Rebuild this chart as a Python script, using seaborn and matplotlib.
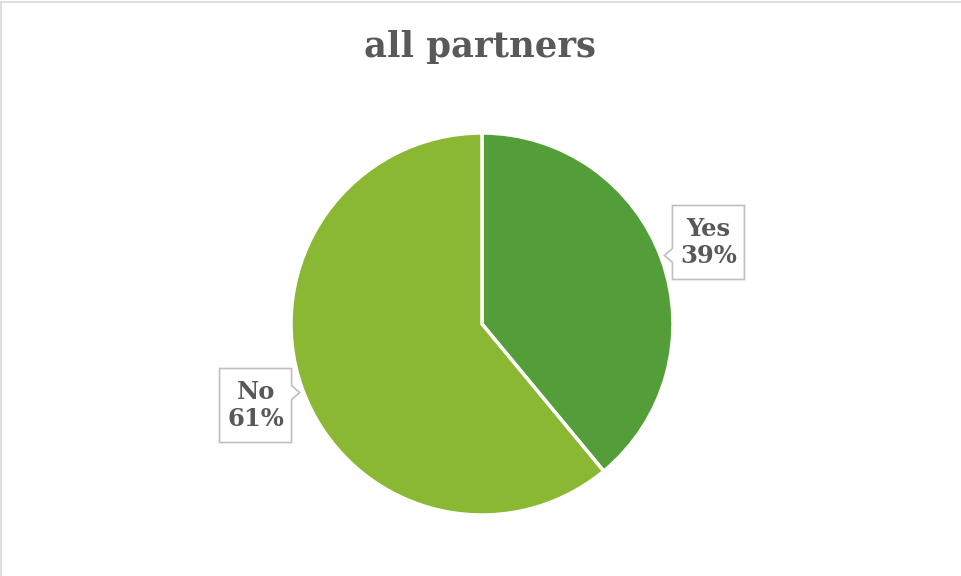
import numpy as np
import matplotlib
matplotlib.use("Agg")
import matplotlib.pyplot as plt
import seaborn as sns
from matplotlib.patches import Polygon, Rectangle

sns.set_theme(style="white")
plt.rcParams['font.family'] = ['DejaVu Serif']

categories = ["Yes", "No"]
values = [39, 61]
colors = ["#549E39", "#8AB833"]
title = "all partners"

W, H = 961, 576
fig = plt.figure(figsize=(W / 100, H / 100), dpi=100)
fig.patch.set_facecolor("white")
# figure frame
fig.patches.append(Rectangle((1 / W, -1), 1.2, 1 - 1.5 / H + 1, transform=fig.transFigure,
                             fill=False, edgecolor="#D9D9D9", linewidth=1.2))

cx, cy, r = 482, 324, 191
ax = fig.add_axes([(cx - r) / W, (H - cy - r) / H, 2 * r / W, 2 * r / H])
wedges, _ = ax.pie(values, colors=colors, startangle=90, counterclock=False,
                   wedgeprops=dict(edgecolor="white", linewidth=2.5), radius=1)
ax.set_xlim(-1, 1)
ax.set_ylim(-1, 1)
ax.set_aspect("auto")
ax.axis("off")

fig.text(0.5, 1 - 47 / H, title, ha="center", va="center", fontsize=25.5,
         fontweight="bold", color="#595959")

bw, bh = 72, 74
total = sum(values)
ox, oy = ax.transData.transform((0, 0))
for w, cat, v in zip(wedges, categories, values):
    ang = np.deg2rad((w.theta1 + w.theta2) / 2)
    x, y = 1.26 * np.cos(ang), 1.26 * np.sin(ang)
    px, py = ax.transData.transform((x, y))
    fig.text(px / W, py / H, f"{cat}\n{round(100 * v / total)}%", ha="center", va="center",
             fontsize=17.5, fontweight="bold", color="#595959", linespacing=1.2, zorder=6)
    l, rr, b, tp = px - bw / 2, px + bw / 2, py - bh / 2, py + bh / 2
    dx, dy = ox - px, oy - py
    n = 7
    ny = py + dy * (bw / 2) / abs(dx)
    if dx < 0:
        pts = [(l, b), (rr, b), (rr, tp), (l, tp), (l, ny + n), (l - 8, ny), (l, ny - n)]
    else:
        pts = [(l, b), (rr, b), (rr, ny - n), (rr + 8, ny), (rr, ny + n), (rr, tp), (l, tp)]
    pts = [(a / W, c / H) for a, c in pts]
    fig.patches.append(Polygon(pts, closed=True, transform=fig.transFigure,
                               facecolor="white", edgecolor="#BFBFBF", linewidth=1.2,
                               zorder=3))

fig.savefig("out.png", dpi=100, facecolor="white")
